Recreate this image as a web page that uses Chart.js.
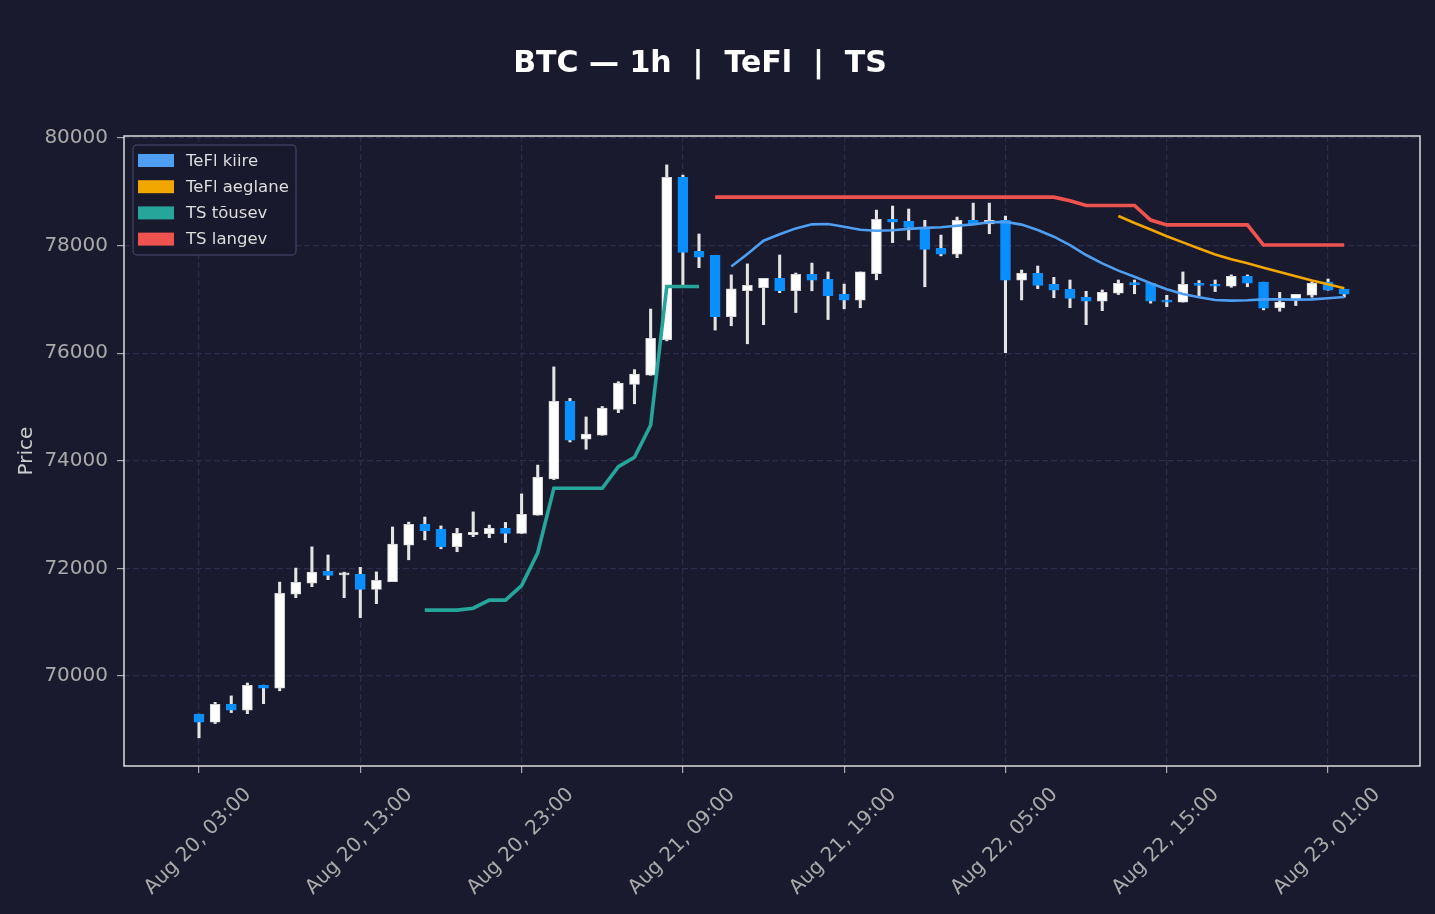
<!DOCTYPE html>
<html>
<head>
<meta charset="utf-8">
<title>BTC 1h TeFl TS</title>
<script src="https://cdn.jsdelivr.net/npm/chart.js@4.4.1/dist/chart.umd.min.js"></script>
<style>
    html, body { margin: 0; padding: 0; background: #1a1a2e; }
    #wrap { width: 1435px; height: 914px; }
</style>
</head>
<body>
<div id="wrap"><canvas id="graafik"></canvas></div>
<script>
// tunnid alates Aug 20 00:00
const tunnid = [
    3, 4, 5, 6, 7, 8, 9, 10, 11, 12, 13, 14, 15, 16, 17, 18, 19, 20, 21, 22, 23, 24, 25, 26,
    27, 28, 29, 30, 31, 32, 33, 34, 35, 36, 37, 38, 39, 40, 41, 42, 43, 44, 45, 46, 47, 48, 49, 50,
    51, 52, 53, 54, 55, 56, 57, 58, 59, 60, 61, 62, 63, 64, 65, 66, 67, 68, 69, 70, 71, 72, 73, 74
];

const avamine = [
    69290, 69140, 69475, 69365, 69825, 69775, 71520, 71725, 71945, 71880, 71890, 71610,
    71755, 72430, 72825, 72725, 72405, 72625, 72645, 72745, 72650, 72990, 73665, 75105,
    74400, 74475, 74955, 75420, 75590, 76250, 79270, 77895, 77820, 76680, 77160, 77220,
    77390, 77160, 77465, 77375, 77095, 76985, 77480, 78490, 78450, 78300, 77950, 77840,
    78470, 78405, 78470, 77355, 77485, 77280, 77190, 77040, 76965, 77115, 77300, 77300,
    76985, 76950, 77280, 77280, 77245, 77430, 77320, 76840, 77005, 77080, 77320, 77190
];
const korgeim = [
    69290, 69510, 69630, 69870, 69830, 71745, 72005, 72400, 72250, 71930, 72020, 71935,
    72770, 72860, 72955, 72790, 72745, 73050, 72805, 72855, 73385, 73920, 75745, 75160,
    74815, 75010, 75470, 75695, 76820, 79500, 79310, 78215, 77820, 77455, 77660, 77390,
    77825, 77490, 77675, 77510, 77285, 77510, 78660, 78735, 78680, 78470, 78195, 78530,
    78790, 78790, 78550, 77545, 77620, 77410, 77360, 77150, 77175, 77360, 77360, 77300,
    77075, 77510, 77350, 77360, 77455, 77455, 77320, 77130, 77095, 77325, 77380, 77190
];
const madalaim = [
    68850, 69115, 69320, 69300, 69485, 69725, 71455, 71660, 71790, 71455, 71085, 71345,
    71755, 72160, 72530, 72365, 72310, 72590, 72570, 72480, 72650, 72990, 73650, 74350,
    74215, 74475, 74895, 75060, 75590, 76230, 77255, 77590, 76430, 76510, 76175, 76530,
    77125, 76755, 77160, 76625, 76825, 76845, 77365, 78055, 78105, 77235, 77810, 77775,
    78405, 78220, 76010, 76990, 77200, 77030, 76845, 76530, 76790, 77090, 77105, 76930,
    76865, 76950, 77070, 77145, 77225, 77235, 76805, 76780, 76885, 77040, 77170, 77040
];
const sulgemine = [
    69140, 69475, 69365, 69825, 69775, 71535, 71740, 71930, 71870, 71895, 71610, 71780,
    72450, 72820, 72700, 72405, 72650, 72670, 72745, 72650, 73005, 73695, 75105, 74385,
    74495, 74980, 75445, 75610, 76275, 79270, 77875, 77785, 76680, 77195, 77260, 77390,
    77160, 77465, 77355, 77070, 76985, 77510, 78490, 78435, 78340, 77930, 77840, 78470,
    78405, 78470, 77355, 77485, 77260, 77170, 77020, 76965, 77130, 77300, 77275, 76965,
    76950, 77280, 77260, 77245, 77430, 77300, 76835, 76950, 77095, 77300, 77170, 77095
];

// indikaatorid (algavad küünla indeksist)
const teflKiireAlgus = 33;
const teflKiire = [
    77610, 77845, 78090, 78210, 78320, 78395, 78400, 78350, 78295, 78275, 78285, 78310,
    78330, 78340, 78370, 78395, 78435, 78440, 78390, 78290, 78165, 78010, 77825, 77670,
    77535, 77420, 77300, 77190, 77100, 77040, 76990, 76978, 76985, 77000, 77000, 76995,
    77000, 77020, 77045
];
const teflAeglaneAlgus = 57;
const teflAeglane = [
    78550, 78420, 78300, 78175, 78060, 77945, 77835, 77745, 77670, 77590, 77510, 77430,
    77350, 77280, 77205
];
const tsTousevAlgus = 14;
const tsTousev = [
    71225, 71225, 71225, 71260, 71410, 71410, 71680, 72290, 73490, 73490, 73490, 73490,
    73890, 74065, 74660, 77240, 77240, 77240
];
const tsLangevAlgus = 32;
const tsLangev = [
    78900, 78900, 78900, 78900, 78900, 78900, 78900, 78900, 78900, 78900, 78900, 78900,
    78900, 78900, 78900, 78900, 78900, 78900, 78900, 78900, 78900, 78900, 78835, 78745,
    78745, 78745, 78745, 78475, 78385, 78385, 78385, 78385, 78385, 78385, 78010, 78010,
    78010, 78010, 78010, 78010
];

const xTikid = [3, 13, 23, 33, 43, 53, 63, 73];
const xSildid = [
    "Aug 20, 03:00", "Aug 20, 13:00", "Aug 20, 23:00", "Aug 21, 09:00",
    "Aug 21, 19:00", "Aug 22, 05:00", "Aug 22, 15:00", "Aug 23, 01:00"
];
const yTikid = [70000, 72000, 74000, 76000, 78000, 80000];

const TOUS = "#ffffff";
const LANGUS = "#0a8fff";

function joon(vaartused, algus) {
    return vaartused.map((v, i) => ({ x: tunnid[algus + i], y: v }));
}

const kehad = tunnid.map((t, i) => ({ x: t, y: [avamine[i], sulgemine[i]] }));
const tahid = tunnid.map((t, i) => ({ x: t, y: [madalaim[i], korgeim[i]] }));
const kehaVarv = tunnid.map((t, i) => (sulgemine[i] >= avamine[i] ? TOUS : LANGUS));
const kehaServ = tunnid.map((t, i) => (sulgemine[i] >= avamine[i] ? "#d6d6d6" : LANGUS));

const raamPlugin = {
    id: "raam",
    afterDraw(chart) {
        const ctx = chart.ctx;
        const a = chart.chartArea;
        ctx.save();
        ctx.strokeStyle = "#dcdcdc";
        ctx.lineWidth = 1.5;
        ctx.strokeRect(a.left, a.top, a.right - a.left, a.bottom - a.top);
        ctx.restore();
    }
};

const legendPlugin = {
    id: "legendKast",
    afterDatasetsDraw(chart) {
        const ctx = chart.ctx;
        const a = chart.chartArea;
        const read = chart.data.datasets.filter(d => d.type === "line");
        const x0 = a.left + 9;
        const y0 = a.top + 9;
        ctx.save();
        ctx.fillStyle = "rgba(26, 26, 46, 0.9)";
        ctx.strokeStyle = "#3c3c5e";
        ctx.lineWidth = 1.5;
        ctx.beginPath();
        ctx.roundRect(x0, y0, 163, 110, 4);
        ctx.fill();
        ctx.stroke();
        ctx.font = '16.5px "DejaVu Sans"';
        ctx.textBaseline = "middle";
        read.forEach((d, i) => {
            const cy = y0 + 15.5 + i * 26.2;
            ctx.fillStyle = d.borderColor;
            ctx.fillRect(x0 + 5, cy - 6.5, 36, 13);
            ctx.fillStyle = "#dddddd";
            ctx.fillText(d.label, x0 + 53, cy + 1);
        });
        ctx.restore();
    }
};

const ctx = document.getElementById("graafik").getContext("2d");

new Chart(ctx, {
    type: "bar",
    data: {
        datasets: [
            {
                type: "line", label: "TeFl kiire", data: joon(teflKiire, teflKiireAlgus),
                borderColor: "#4e9ef2", borderWidth: 2.6, pointRadius: 0, tension: 0
            },
            {
                type: "line", label: "TeFl aeglane", data: joon(teflAeglane, teflAeglaneAlgus),
                borderColor: "#f2a600", borderWidth: 2.6, pointRadius: 0, tension: 0
            },
            {
                type: "line", label: "TS tõusev", data: joon(tsTousev, tsTousevAlgus),
                borderColor: "#26a69a", borderWidth: 3.6, pointRadius: 0, tension: 0
            },
            {
                type: "line", label: "TS langev", data: joon(tsLangev, tsLangevAlgus),
                borderColor: "#ef5350", borderWidth: 3.6, pointRadius: 0, tension: 0
            },
            {
                label: "keha", data: kehad, grouped: false,
                backgroundColor: kehaVarv, borderColor: kehaServ, borderWidth: 1,
                borderSkipped: false, barThickness: 10, minBarLength: 2
            },
            {
                label: "tahk", data: tahid, grouped: false,
                backgroundColor: "#e4e4e4", borderWidth: 0, barThickness: 2.4
            }
        ]
    },
    options: {
        responsive: true,
        maintainAspectRatio: false,
        animation: false,
        // vasak polsterdus on negatiivne, et pealkiri jääks x=700 keskele
        layout: { padding: { left: -20, right: 15, top: 0, bottom: 0 } },
        plugins: {
            legend: { display: false },
            tooltip: { enabled: false },
            title: {
                display: true,
                text: "BTC — 1h  |  TeFl  |  TS",
                color: "#ffffff",
                font: { family: "DejaVu Sans", size: 30, weight: "bold", lineHeight: 1.2 },
                padding: { top: 46, bottom: 54 }
            }
        },
        scales: {
            x: {
                type: "linear",
                min: -1.65,
                max: 78.7,
                offset: false,
                afterBuildTicks: s => { s.ticks = xTikid.map(v => ({ value: v })); },
                afterFit: s => { s.height = 148; },
                ticks: {
                    callback: v => xSildid[xTikid.indexOf(v)],
                    color: "#aaaaaa",
                    font: { family: "DejaVu Sans", size: 20 },
                    minRotation: 45,
                    maxRotation: 45,
                    autoSkip: false,
                    padding: 10,
                    labelOffset: 49
                },
                grid: {
                    offset: false, color: "#2d2d4b", lineWidth: 1.2,
                    tickColor: "#aaaaaa", tickLength: 7, tickWidth: 1.2
                },
                border: { display: false, dash: [6, 3] }
            },
            y: {
                min: 68327,
                max: 80037,
                afterBuildTicks: s => { s.ticks = yTikid.map(v => ({ value: v })); },
                afterFit: s => { s.width = 144; },
                ticks: {
                    callback: v => String(v),
                    color: "#aaaaaa",
                    font: { family: "DejaVu Sans", size: 20 },
                    padding: 9
                },
                title: {
                    display: true,
                    text: "Price",
                    color: "#cccccc",
                    font: { family: "DejaVu Sans", size: 20 },
                    padding: { top: 35, bottom: 0 }
                },
                grid: { color: "#2d2d4b", lineWidth: 1.2, tickColor: "#aaaaaa", tickLength: 7, tickWidth: 1.2 },
                border: { display: false, dash: [6, 3] }
            }
        }
    },
    plugins: [raamPlugin, legendPlugin]
});
</script>
</body>
</html>
